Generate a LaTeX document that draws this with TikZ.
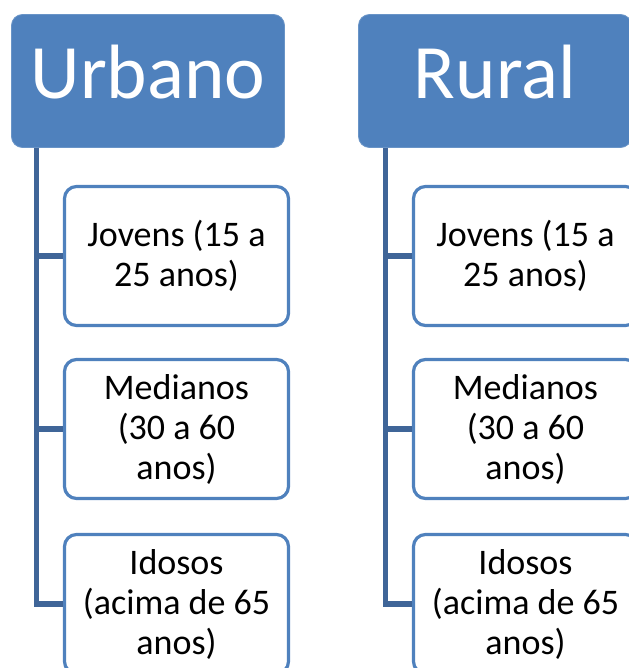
\documentclass[tikz,border=0pt]{standalone}
\usepackage{fontspec}
\setmainfont{Carlito}
\definecolor{titlefill}{HTML}{4F81BD}
\definecolor{childborder}{HTML}{4F81BD}
\definecolor{connline}{HTML}{3F6598}
\tikzset{
  titlebox/.style={draw=titlefill!85!white, line width=0.8pt, fill=titlefill, rounded corners=11pt,
    minimum width=273pt, minimum height=133pt, text=white,
    font=\fontsize{77}{80}\selectfont, text height=52pt, text depth=16pt, inner sep=0pt},
  childbox/.style={draw=childborder, line width=3.2pt, fill=white, rounded corners=12pt,
    minimum width=224pt, minimum height=139pt, text=black, align=center,
    font=\fontsize{36}{40}\selectfont, inner sep=0pt},
  conn/.style={draw=connline, line width=5.2pt}
}
\begin{document}
\begin{tikzpicture}[x=1pt,y=-1pt]
\useasboundingbox (0,0) rectangle (628,668);
% Urbano column
\node[titlebox] (u) at (148,81) {Urbano};
\coordinate (utop) at (36.5,148);
\node[childbox] (uj) at (176.5,256) {Jovens (15 a\\25 anos)};
\node[childbox] (um) at (176.5,429) {Medianos\\(30 a 60\\anos)};
\node[childbox] (ui) at (176.5,604) {Idosos\\(acima de 65\\anos)};
\draw[conn] (utop) |- (ui.west);
\draw[conn] (utop |- uj.west) -- (uj.west);
\draw[conn] (utop |- um.west) -- (um.west);
% Rural column
\node[titlebox] (r) at (495,81) {Rural};
\coordinate (rtop) at (385.5,148);
\node[childbox] (rj) at (525.5,256) {Jovens (15 a\\25 anos)};
\node[childbox] (rm) at (525.5,429) {Medianos\\(30 a 60\\anos)};
\node[childbox] (ri) at (525.5,604) {Idosos\\(acima de 65\\anos)};
\draw[conn] (rtop) |- (ri.west);
\draw[conn] (rtop |- rj.west) -- (rj.west);
\draw[conn] (rtop |- rm.west) -- (rm.west);
\end{tikzpicture}
\end{document}
